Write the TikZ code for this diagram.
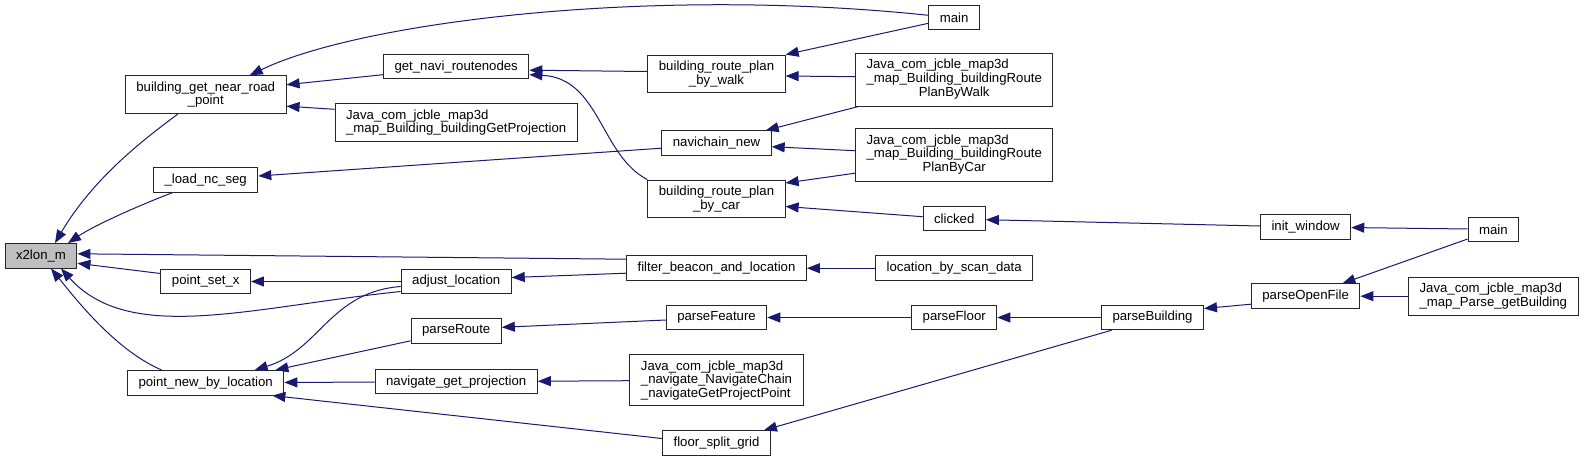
\documentclass[tikz,border=0pt]{standalone}
\usepackage{fontspec}
\setmainfont{Liberation Sans}
\usetikzlibrary{arrows.meta}
\definecolor{edgeblue}{RGB}{25,25,112}
\definecolor{curgray}{RGB}{191,191,191}
\newcommand{\lastc}[1]{\multicolumn{1}{@{}c@{}}{#1}}

\begin{document}
\begin{tikzpicture}[x=1pt, y=-1pt,
  font=\fontsize{13.2}{13.5}\selectfont,
  fn/.style={draw=black!85, line width=1pt, fill=white, inner xsep=11pt,
    inner ysep=6pt, minimum height=24.5pt, align=center},
  cur/.style={fn, fill=curgray},
  jv/.style={fn, align=left},
  a/.style={-{Triangle[length=13pt, width=10pt]}, draw=edgeblue, line width=1pt}]
\useasboundingbox (0,0) rectangle (1584,461);

% =================== the function and its direct callers =================
\node[cur] (x2lon) at (41,255.8) {x2lon\_m};
\node[fn] (bgnrp) at (205.7,94.7) {building\_get\_near\_road\\\_point};
\node[fn] (loadseg) at (205.7,180) {\_load\_nc\_seg};
\node[fn] (psetx) at (205.7,281.5) {point\_set\_x};
\node[fn] (pnbl) at (205.7,382.8) {point\_new\_by\_location};

% =================== third column ========================================
\node[fn] (gnr) at (456.2,66.7) {get\_navi\_routenodes};
\node[jv] (jproj) at (456.2,122.8)
      {Java\_com\_jcble\_map3d\\\_map\_Building\_buildingGetProjection};
\node[fn] (adjust) at (456.2,281.5) {adjust\_location};
\node[fn] (proute) at (456.2,330.8) {parseRoute};
\node[fn] (navproj) at (456.2,381.7) {navigate\_get\_projection};

% =================== fourth column =======================================
\node[fn] (bprw) at (716.5,74) {building\_route\_plan\\\_by\_walk};
\node[fn] (nchain) at (716.5,143.2) {navichain\_new};
\node[fn] (bprc) at (716.5,199) {building\_route\_plan\\\_by\_car};
\node[fn] (filter) at (716.5,268.2) {filter\_beacon\_and\_location};
\node[fn] (pfeat) at (716.5,317.5) {parseFeature};
\node[jv] (jnav) at (716.5,380.2)
      {Java\_com\_jcble\_map3d\\\_navigate\_NavigateChain\\\_navigateGetProjectPoint};
\node[fn] (fsg) at (716.5,443) {floor\_split\_grid};

% =================== fifth column ========================================
\node[fn] (mainA) at (954.2,17.3) {main};
\node[fn] (jwalk) at (954.2,79.7) {\begin{tabular}{@{}l@{}}Java\_com\_jcble\_map3d\\
      \_map\_Building\_buildingRoute\\\lastc{PlanByWalk}\end{tabular}};
\node[fn] (jcar) at (954.2,155.2) {\begin{tabular}{@{}l@{}}Java\_com\_jcble\_map3d\\
      \_map\_Building\_buildingRoute\\\lastc{PlanByCar}\end{tabular}};
\node[fn] (clicked) at (954.2,218.7) {clicked};
\node[fn] (locscan) at (954.2,268.2) {location\_by\_scan\_data};
\node[fn] (pfloor) at (954.2,317.5) {parseFloor};

% =================== right-hand columns ==================================
\node[fn] (pbuild) at (1152.5,317.5) {parseBuilding};
\node[fn] (initwin) at (1305.6,227) {init\_window};
\node[fn] (popen) at (1305.6,296.2) {parseOpenFile};
\node[fn] (mainB) at (1493.3,229.3) {main};
\node[jv] (jget) at (1493.3,296.2) {Java\_com\_jcble\_map3d\\\_map\_Parse\_getBuilding};

% =================== calls into x2lon_m ==================================
\draw[a] ([xshift=-28pt]bgnrp.south) .. controls (150,135) and (95,175) .. ([xshift=14pt]x2lon.north);
\draw[a] ([xshift=-33.5pt]loadseg.south) .. controls (140,205) and (95,225) .. ([xshift=27pt]x2lon.north);
\draw[a] ([yshift=9pt]filter.west) -- ([yshift=2pt]x2lon.east);
\draw[a] ([yshift=8pt]psetx.west) -- ([yshift=-7.5pt]x2lon.east);
\draw[a] ([yshift=-10pt]adjust.west) .. controls (250,307) and (130,345) .. ([xshift=20pt]x2lon.south);
\draw[a] ([xshift=-44pt]pnbl.north) .. controls (115,350) and (75,298) .. ([xshift=10pt]x2lon.south);

% =================== second level ========================================
\draw[a] ([yshift=2pt]mainA.west) .. controls (650,-14) and (360,22) .. ([xshift=44pt]bgnrp.north);
\draw[a] ([yshift=-8pt]gnr.west) -- ([yshift=10pt]bgnrp.east);
\draw[a] ([yshift=13.5pt]jproj.west) -- ([yshift=-11.5pt]bgnrp.east);
\draw[a] ([yshift=-5pt]nchain.west) -- ([yshift=4pt]loadseg.east);
\draw[a] ([yshift=-5pt]filter.west) -- ([yshift=4pt]adjust.east);
\draw[a] (adjust) -- (psetx);
\draw[a] ([yshift=-5pt]adjust.west) .. controls (330,292) and (320,350) .. ([xshift=49pt]pnbl.north);
\draw[a] ([yshift=-10pt]proute.west) -- ([xshift=-9pt]pnbl.north east);
\draw[a] (navproj) -- (pnbl);
\draw[a] ([yshift=4.5pt]fsg.west) -- ([xshift=-12pt]pnbl.south east);

% =================== further callers =====================================
\draw[a] ([yshift=2.5pt]bprw.west) -- ([yshift=-3.5pt]gnr.east);
\draw[a] (bprc.north west) .. controls (600,155) and (600,78) .. ([yshift=-8pt]gnr.east);
\draw[a] ([yshift=-2.5pt]pfeat.west) -- ([yshift=3.5pt]proute.east);
\draw[a] (jnav) -- (navproj);
\draw[a] ([yshift=-6pt]mainA.west) -- (bprw.north east);
\draw[a] ([yshift=3pt]jwalk.west) -- ([yshift=-2pt]bprw.east);
\draw[a] ([xshift=3pt]jwalk.south west) -- ([xshift=-6pt]nchain.north east);
\draw[a] ([yshift=4.5pt]jcar.west) -- ([yshift=-3.5pt]nchain.east);
\draw[a] ([yshift=-18pt]jcar.west) -- ([yshift=16pt]bprc.east);
\draw[a] ([yshift=2pt]clicked.west) -- ([yshift=-7.5pt]bprc.east);
\draw[a] (locscan) -- (filter);
\draw[a] (pfloor) -- (pfeat);
\draw[a] ([yshift=1pt]initwin.west) -- ([yshift=-1pt]clicked.east);
\draw[a] (pbuild) -- (pfloor);
\draw[a] ([xshift=-41pt]pbuild.south) -- ([xshift=-7pt]fsg.north east);
\draw[a] ([yshift=-8pt]popen.west) -- ([yshift=9pt]pbuild.east);
\draw[a] (mainB) -- (initwin);
\draw[a] ([yshift=3pt]mainB.south west) -- ([xshift=-18pt]popen.north east);
\draw[a] (jget) -- (popen);
\end{tikzpicture}
\end{document}
